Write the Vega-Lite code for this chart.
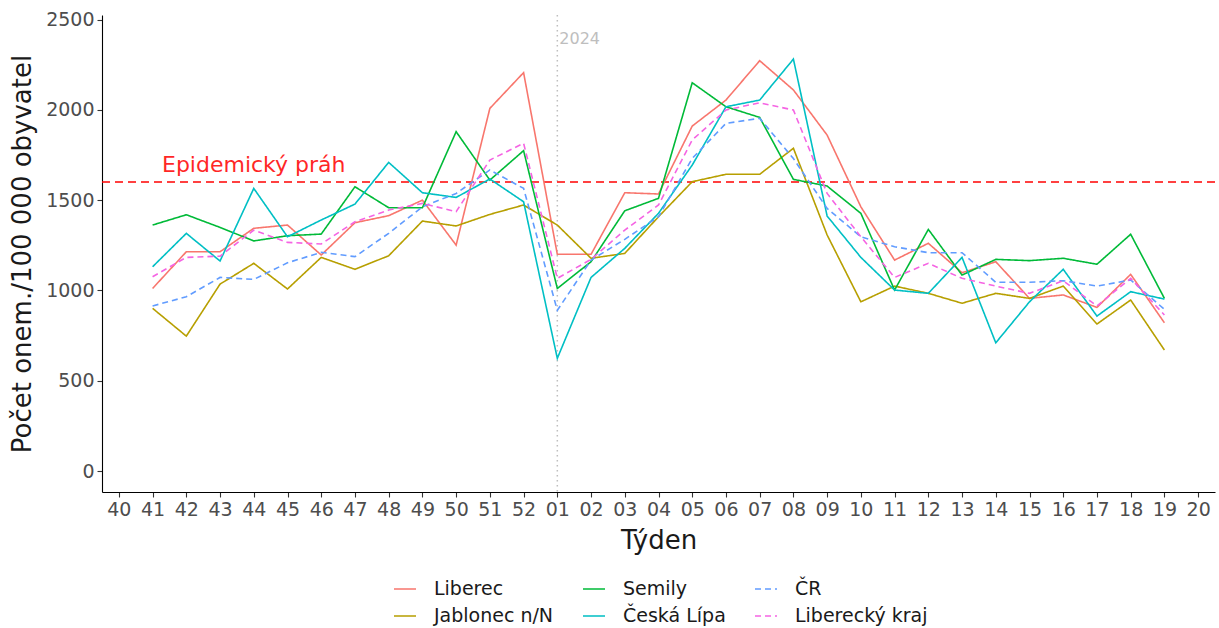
{
  "$schema": "https://vega.github.io/schema/vega-lite/v6.json",
  "width": 1113,
  "height": 477,
  "autosize": {"type": "none"},
  "padding": {"left": 102, "top": 15, "right": 4, "bottom": 136},
  "background": "white",
  "config": {
    "view": {"stroke": null},
    "font": "DejaVu Sans",
    "axis": {
      "grid": false,
      "domainColor": "#000000",
      "domainWidth": 1.1,
      "tickColor": "#333333",
      "tickSize": 5,
      "tickWidth": 1.1,
      "labelColor": "#4D4D4D",
      "labelFont": "DejaVu Sans",
      "labelFontSize": 19,
      "titleFont": "DejaVu Sans",
      "titleFontSize": 26,
      "titleFontWeight": "normal",
      "titleColor": "#1A1A1A"
    },
    "legend": {
      "labelFont": "DejaVu Sans",
      "labelFontSize": 19,
      "labelColor": "#1A1A1A"
    }
  },
  "datasets": {
    "weekly": [
      {"w": "41", "Liberec": 1011, "Jablonec n/N": 901, "Semily": 1362, "Česká Lípa": 1131, "ČR": 914, "Liberecký kraj": 1076},
      {"w": "42", "Liberec": 1214, "Jablonec n/N": 747, "Semily": 1419, "Česká Lípa": 1316, "ČR": 965, "Liberecký kraj": 1183},
      {"w": "43", "Liberec": 1214, "Jablonec n/N": 1035, "Semily": 1349, "Česká Lípa": 1163, "ČR": 1072, "Liberecký kraj": 1190},
      {"w": "44", "Liberec": 1344, "Jablonec n/N": 1150, "Semily": 1274, "Česká Lípa": 1565, "ČR": 1061, "Liberecký kraj": 1334},
      {"w": "45", "Liberec": 1362, "Jablonec n/N": 1008, "Semily": 1303, "Česká Lípa": 1297, "ČR": 1153, "Liberecký kraj": 1266},
      {"w": "46", "Liberec": 1196, "Jablonec n/N": 1183, "Semily": 1312, "Česká Lípa": 1390, "ČR": 1211, "Liberecký kraj": 1257},
      {"w": "47", "Liberec": 1375, "Jablonec n/N": 1117, "Semily": 1574, "Česká Lípa": 1478, "ČR": 1187, "Liberecký kraj": 1380},
      {"w": "48", "Liberec": 1414, "Jablonec n/N": 1192, "Semily": 1458, "Česká Lípa": 1709, "ČR": 1316, "Liberecký kraj": 1445},
      {"w": "49", "Liberec": 1500, "Jablonec n/N": 1384, "Semily": 1458, "Česká Lípa": 1541, "ČR": 1463, "Liberecký kraj": 1482},
      {"w": "50", "Liberec": 1251, "Jablonec n/N": 1357, "Semily": 1879, "Česká Lípa": 1515, "ČR": 1537, "Liberecký kraj": 1436},
      {"w": "51", "Liberec": 2008, "Jablonec n/N": 1421, "Semily": 1611, "Česká Lípa": 1617, "ČR": 1667, "Liberecký kraj": 1722},
      {"w": "52", "Liberec": 2206, "Jablonec n/N": 1473, "Semily": 1774, "Česká Lípa": 1491, "ČR": 1565, "Liberecký kraj": 1815},
      {"w": "01", "Liberec": 1200, "Jablonec n/N": 1362, "Semily": 1011, "Česká Lípa": 624, "ČR": 890, "Liberecký kraj": 1067},
      {"w": "02", "Liberec": 1200, "Jablonec n/N": 1178, "Semily": 1159, "Česká Lípa": 1072, "ČR": 1168, "Liberecký kraj": 1172},
      {"w": "03", "Liberec": 1541, "Jablonec n/N": 1205, "Semily": 1441, "Česká Lípa": 1233, "ČR": 1283, "Liberecký kraj": 1334},
      {"w": "04", "Liberec": 1534, "Jablonec n/N": 1408, "Semily": 1510, "Česká Lípa": 1427, "ČR": 1408, "Liberecký kraj": 1473},
      {"w": "05", "Liberec": 1910, "Jablonec n/N": 1602, "Semily": 2150, "Česká Lípa": 1694, "ČR": 1731, "Liberecký kraj": 1833},
      {"w": "06", "Liberec": 2054, "Jablonec n/N": 1643, "Semily": 2017, "Česká Lípa": 2017, "ČR": 1925, "Liberecký kraj": 1999},
      {"w": "07", "Liberec": 2272, "Jablonec n/N": 1643, "Semily": 1958, "Česká Lípa": 2054, "ČR": 1953, "Liberecký kraj": 2039},
      {"w": "08", "Liberec": 2110, "Jablonec n/N": 1787, "Semily": 1615, "Česká Lípa": 2281, "ČR": 1730, "Liberecký kraj": 1999},
      {"w": "09", "Liberec": 1860, "Jablonec n/N": 1307, "Semily": 1578, "Česká Lípa": 1412, "ČR": 1454, "Liberecký kraj": 1537},
      {"w": "10", "Liberec": 1463, "Jablonec n/N": 937, "Semily": 1427, "Česká Lípa": 1183, "ČR": 1297, "Liberecký kraj": 1297},
      {"w": "11", "Liberec": 1168, "Jablonec n/N": 1024, "Semily": 1002, "Česká Lípa": 1002, "ČR": 1242, "Liberecký kraj": 1072},
      {"w": "12", "Liberec": 1261, "Jablonec n/N": 984, "Semily": 1338, "Česká Lípa": 984, "ČR": 1209, "Liberecký kraj": 1150},
      {"w": "13", "Liberec": 1098, "Jablonec n/N": 929, "Semily": 1085, "Česká Lípa": 1183, "ČR": 1209, "Liberecký kraj": 1067},
      {"w": "14", "Liberec": 1159, "Jablonec n/N": 984, "Semily": 1172, "Česká Lípa": 710, "ČR": 1045, "Liberecký kraj": 1024},
      {"w": "15", "Liberec": 956, "Jablonec n/N": 956, "Semily": 1165, "Česká Lípa": 937, "ČR": 1045, "Liberecký kraj": 984},
      {"w": "16", "Liberec": 975, "Jablonec n/N": 1024, "Semily": 1178, "Česká Lípa": 1117, "ČR": 1054, "Liberecký kraj": 1054},
      {"w": "17", "Liberec": 906, "Jablonec n/N": 814, "Semily": 1145, "Česká Lípa": 858, "ČR": 1024, "Liberecký kraj": 914},
      {"w": "18", "Liberec": 1089, "Jablonec n/N": 947, "Semily": 1311, "Česká Lípa": 993, "ČR": 1058, "Liberecký kraj": 1067},
      {"w": "19", "Liberec": 821, "Jablonec n/N": 670, "Semily": 956, "Česká Lípa": 952, "ČR": 895, "Liberecký kraj": 864}
    ],
    "threshold": [{"value": 1600}],
    "yearline": [{"w": "01"}],
    "labels": [
      {"w": "44", "value": 1694, "label": "Epidemický práh", "kind": "threshold"},
      {"w": "01", "value": 2392, "label": "2024", "kind": "year"}
    ]
  },
  "encoding": {
    "x": {
      "field": "w",
      "type": "ordinal",
      "title": "Týden",
      "scale": {
        "type": "point",
        "padding": 0.5,
        "domain": ["40", "41", "42", "43", "44", "45", "46", "47", "48", "49", "50", "51", "52", "01", "02", "03", "04", "05", "06", "07", "08", "09", "10", "11", "12", "13", "14", "15", "16", "17", "18", "19", "20"]
      },
      "axis": {"labelAngle": 0, "labelPadding": 3, "titlePadding": 8}
    }
  },
  "layer": [
    {
      "data": {"name": "yearline"},
      "mark": {"type": "rule", "color": "#BEBEBE", "strokeDash": [1.5, 3.5], "strokeWidth": 1.5}
    },
    {
      "data": {"name": "threshold"},
      "mark": {"type": "rule", "color": "#FF0000", "opacity": 0.75, "strokeDash": [8, 5], "strokeWidth": 2},
      "encoding": {
        "x": null,
        "y": {"field": "value", "type": "quantitative"}
      }
    },
    {
      "data": {"name": "weekly"},
      "transform": [
        {"fold": ["Liberec", "Jablonec n/N", "Semily", "Česká Lípa", "ČR", "Liberecký kraj"], "as": ["series", "value"]}
      ],
      "mark": {"type": "line", "strokeWidth": 1.6},
      "encoding": {
        "y": {
          "field": "value",
          "type": "quantitative",
          "title": "Počet onem./100 000 obyvatel",
          "scale": {"domain": [-116, 2525], "nice": false, "zero": false},
          "axis": {"values": [0, 500, 1000, 1500, 2000, 2500], "format": "d", "labelPadding": 3, "titlePadding": 10}
        },
        "color": {
          "field": "series",
          "type": "nominal",
          "title": null,
          "scale": {
            "domain": ["Liberec", "Semily", "ČR", "Jablonec n/N", "Česká Lípa", "Liberecký kraj"],
            "range": ["#F8766D", "#00BA38", "#619CFF", "#B79F00", "#00BFC4", "#F564E3"]
          },
          "legend": {
            "orient": "none",
            "legendX": 291,
            "legendY": 562,
            "columns": 3,
            "direction": "horizontal",
            "symbolType": "stroke",
            "symbolSize": 484,
            "symbolStrokeWidth": 1.6,
            "labelOffset": 17,
            "columnPadding": 25,
            "rowPadding": 5
          }
        },
        "strokeDash": {
          "field": "series",
          "type": "nominal",
          "title": null,
          "scale": {
            "domain": ["Liberec", "Semily", "ČR", "Jablonec n/N", "Česká Lípa", "Liberecký kraj"],
            "range": [[1, 0], [1, 0], [6, 4], [1, 0], [1, 0], [6, 4]]
          },
          "legend": {
            "orient": "none",
            "legendX": 291,
            "legendY": 562,
            "columns": 3,
            "direction": "horizontal",
            "symbolType": "stroke",
            "symbolSize": 484,
            "symbolStrokeWidth": 1.6,
            "labelOffset": 17,
            "columnPadding": 25,
            "rowPadding": 5
          }
        },
        "order": {"value": null}
      }
    },
    {
      "data": {"name": "labels"},
      "transform": [{"filter": "datum.kind === 'threshold'"}],
      "mark": {"type": "text", "color": "#FF0000", "opacity": 0.85, "fontSize": 22, "align": "center", "baseline": "middle", "font": "DejaVu Sans"},
      "encoding": {
        "y": {"field": "value", "type": "quantitative"},
        "text": {"field": "label"}
      }
    },
    {
      "data": {"name": "labels"},
      "transform": [{"filter": "datum.kind === 'year'"}],
      "mark": {"type": "text", "color": "#BEBEBE", "fontSize": 16, "align": "left", "baseline": "middle", "dx": 2, "font": "DejaVu Sans"},
      "encoding": {
        "y": {"field": "value", "type": "quantitative"},
        "text": {"field": "label"}
      }
    }
  ]
}
